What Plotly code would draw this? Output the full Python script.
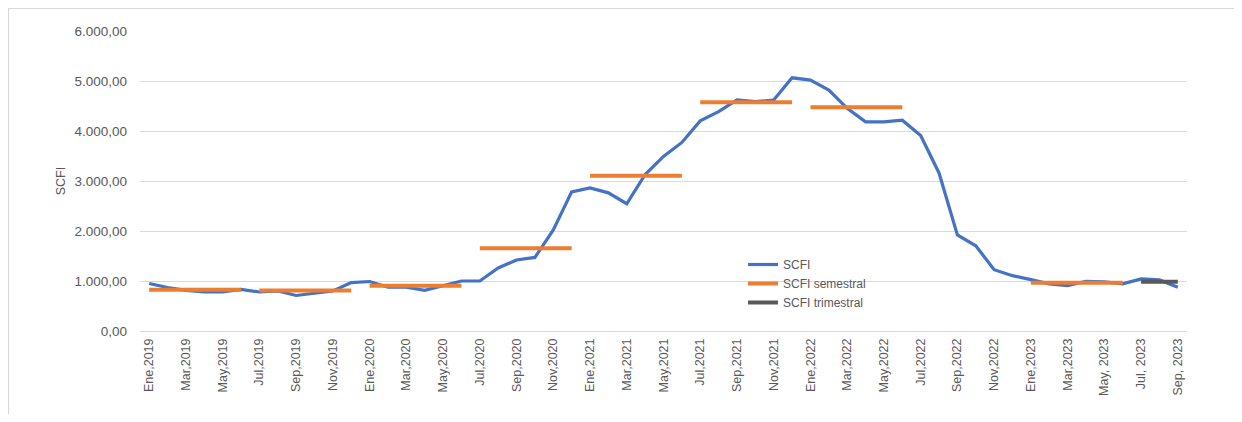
import plotly.graph_objects as go

months = ["Ene", "Feb", "Mar", "Abr", "May", "Jun", "Jul", "Ago", "Sep", "Oct", "Nov", "Dic"]
categories = [f"{m},{y}" for y in (2019, 2020, 2021, 2022, 2023) for m in months][:57]

scfi = [950, 870, 813, 780, 780, 833, 780, 800, 710, 750, 800, 968,
        990, 875, 875, 813, 900, 1000, 1000, 1260, 1420, 1471, 2020, 2783,
        2863, 2763, 2545, 3130, 3493, 3771, 4203, 4388, 4620, 4587, 4620, 5064,
        5018, 4819, 4453, 4183, 4183, 4215, 3911, 3161, 1922, 1704, 1227, 1107,
        1028, 942, 909, 994, 982, 942, 1042, 1022, 875]

# Semester averages (start index, end index inclusive, value)
semester_start = [0, 6, 12, 18, 24, 30, 36, 48]
semester_end = [5, 11, 17, 23, 29, 35, 41, 53]
semester_value = [825, 810, 905, 1655, 3105, 4575, 4475, 965]

# Quarter average
quarter_start = [54]
quarter_end = [56]
quarter_value = [985]

tick_labels = ["Ene,2019", "Mar,2019", "May,2019", "Jul,2019", "Sep,2019", "Nov,2019",
               "Ene,2020", "Mar,2020", "May,2020", "Jul,2020", "Sep,2020", "Nov,2020",
               "Ene,2021", "Mar,2021", "May,2021", "Jul,2021", "Sep,2021", "Nov,2021",
               "Ene,2022", "Mar,2022", "May,2022", "Jul,2022", "Sep,2022", "Nov,2022",
               "Ene,2023", "Mar,2023", "May, 2023", "Jul, 2023", "Sep, 2023"]
tick_pos = list(range(0, 57, 2))

x_idx = list(range(len(scfi)))

def segments(starts, ends, vals):
    xs, ys = [], []
    for s, e, v in zip(starts, ends, vals):
        xs += [s, e, None]
        ys += [v, v, None]
    return xs, ys

sx, sy = segments(semester_start, semester_end, semester_value)
qx, qy = segments(quarter_start, quarter_end, quarter_value)

fig = go.Figure()
fig.add_trace(go.Scatter(x=x_idx, y=scfi, mode="lines", name="SCFI",
                         line=dict(color="#4472C4", width=3.2),
                         customdata=categories, hovertemplate="%{customdata}: %{y}<extra></extra>"))
fig.add_trace(go.Scatter(x=sx, y=sy, mode="lines", name="SCFI semestral",
                         line=dict(color="#ED7D31", width=4), connectgaps=False))
fig.add_trace(go.Scatter(x=qx, y=qy, mode="lines", name="SCFI trimestral",
                         line=dict(color="#595959", width=4), connectgaps=False))

OFF = 8  # page body margin
W, H = 1242 - 2 * OFF, 422 - 2 * OFF
L = 140 - OFF
T = 31 - OFF
R = W - (1187 - OFF)
B = H - (331 - OFF)
pw, ph = W - L - R, H - T - B

def px_x(px):
    return (px - OFF - L) / pw

def px_y(py):
    return (H - B - (py - OFF)) / ph

fig.add_shape(type="rect", xref="paper", yref="paper",
              x0=px_x(8.5), x1=px_x(1236), y0=px_y(440), y1=px_y(8.5),
              line=dict(color="#d9d9d9", width=1.2), fillcolor="rgba(0,0,0,0)", layer="below")

fig.update_layout(
    width=W, height=H,
    margin=dict(l=L, r=R, t=T, b=B),
    paper_bgcolor="white", plot_bgcolor="white",
    separators=",.",
    font=dict(family="Liberation Sans, Arial, sans-serif", size=12, color="#595959"),
    showlegend=True,
    legend=dict(x=px_x(743), y=px_y(250), xanchor="left", yanchor="top",
                bgcolor="rgba(0,0,0,0)", font=dict(size=12, color="#595959"),
                tracegroupgap=0, itemwidth=30),
    xaxis=dict(range=[-0.5, 56.5], tickmode="array", tickvals=tick_pos, ticktext=tick_labels,
               tickangle=-90, showgrid=False, zeroline=False, showline=False,
               ticks="", ticklabelstandoff=4,
               tickfont=dict(size=12.5, color="#595959"), fixedrange=True),
    yaxis=dict(range=[0, 6000], tickvals=[0, 1000, 2000, 3000, 4000, 5000, 6000],
               tickformat=",.2f", showgrid=True, gridcolor="#d9d9d9", gridwidth=1,
               zeroline=True, zerolinecolor="#d9d9d9", zerolinewidth=1,
               showline=False, ticks="", ticklabelstandoff=12,
               title=dict(text="SCFI", font=dict(size=12.5, color="#595959"), standoff=6),
               tickfont=dict(size=13.5, color="#595959")),
)

fig.write_html("out.html")
